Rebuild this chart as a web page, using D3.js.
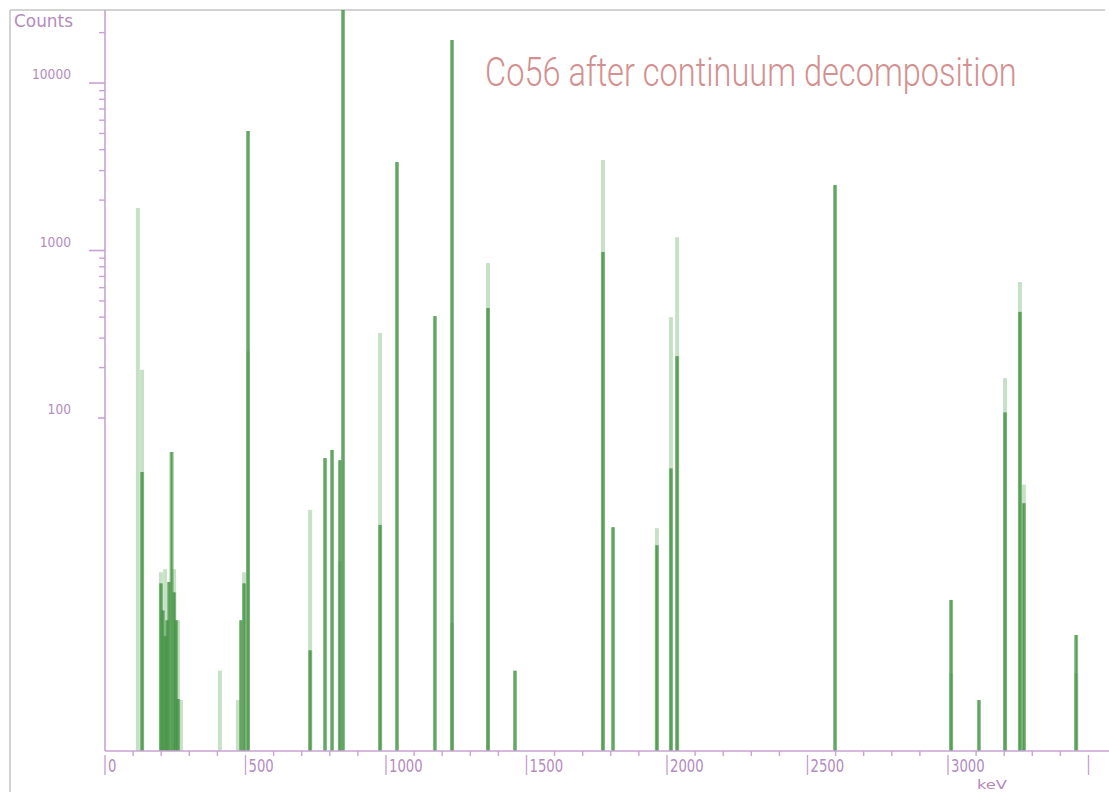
<!DOCTYPE html>
<html>
<head>
<meta charset="utf-8">
<script src="https://cdn.jsdelivr.net/npm/d3@7"></script>
<style>
  html, body { margin: 0; padding: 0; background: #ffffff; }
  svg { display: block; }
</style>
</head>
<body>
<svg id="chart" width="1109" height="792"></svg>
<script>
// ---- data ----
const title = "Co56 after continuum decomposition";
const yAxisTitle = "Counts";
const xAxisTitle = "keV";
const yTickValues = [100, 1000, 10000];
const yTickLabels = ["100", "1000", "10000"];
const xTickValues = [0, 500, 1000, 1500, 2000, 2500, 3000, 3500];
const xTickLabels = ["0", "500", "1000", "1500", "2000", "2500", "3000", ""];

// line energies (keV)
const lineEnergy = [117, 132, 199, 206, 214, 221, 228, 237, 246, 253, 260, 270,
  409, 473, 484, 495, 509, 730, 783, 808, 836, 847, 979, 1039, 1174, 1235,
  1363, 1459, 1772, 1808, 1964, 2014, 2036, 2598, 3011, 3110, 3203, 3256, 3270, 3456];
// light (spectrum envelope) counts, null = none
const lightCounts = [1795, 194, 12, null, 12.5, null, null, null, 12.5, null, 6.2, 2.07,
  3.1, 2.07, null, 12, 250, 28.3, null, null, 14, null, 322, null, null, 6,
  842, null, 3470, null, 22, 400, 1200, null, 3, null, 173, 649, 40, 3];
// dark (fitted peak) counts
const darkCounts = [null, 47.6, 10.3, 7.1, 5, 6.2, 10.5, 62.7, 9.1, 6.2, 2.1, null,
  null, null, 6.2, 10.3, 5170, 4.1, 57.7, 64.5, 56, 60000, 23, 3375, 406, 18070,
  454, 3.1, 980, 22.3, 17.4, 50, 234, 2460, 8.2, 2.07, 108, 430, 31, 5.06];

// ---- drawing ----
const svg = d3.select("#chart");
const axisColor = "#c9a3d3";
const labelColor = "#b48bbf";
const x0 = 105, axisY = 751, topY = 10, rightX = 1105;

const x = d3.scaleLinear().domain([0, 3560]).range([x0, x0 + 3560 * 0.281]);
const y = d3.scaleLog().domain([1, Math.pow(10, 4.436)]).range([753, topY]);

// frame
svg.append("line").attr("x1", 10).attr("x2", rightX).attr("y1", 10).attr("y2", 10)
  .attr("stroke", "#c4c4c4").attr("stroke-width", 1.5);
svg.append("line").attr("x1", 10).attr("x2", 10).attr("y1", 10).attr("y2", 792)
  .attr("stroke", "#c4c4c4").attr("stroke-width", 1.5);

svg.append("clipPath").attr("id", "plotclip")
  .append("rect").attr("x", x0).attr("y", topY).attr("width", rightX - x0).attr("height", axisY - topY);

const plot = svg.append("g").attr("clip-path", "url(#plotclip)");

const data = lineEnergy.map((e, i) => ({ e, light: lightCounts[i], dark: darkCounts[i] }));

// light bars
plot.selectAll("rect.light").data(data.filter(d => d.light != null)).join("rect")
  .attr("class", "light")
  .attr("x", d => x(d.e) - 2).attr("width", 4)
  .attr("y", d => y(d.light)).attr("height", d => Math.max(0, axisY - y(d.light)))
  .attr("fill", "#8fc48f").attr("fill-opacity", 0.5);

// dark bars
plot.selectAll("rect.dark").data(data.filter(d => d.dark != null)).join("rect")
  .attr("class", "dark")
  .attr("x", d => x(d.e) - 2).attr("width", 4)
  .attr("y", d => y(d.dark)).attr("height", d => Math.max(0, axisY - y(d.dark)))
  .attr("fill", "#5aa05a").attr("fill-opacity", 0.7);
plot.selectAll("rect.core").data(data.filter(d => d.dark != null)).join("rect")
  .attr("class", "core")
  .attr("x", d => x(d.e) - 0.75).attr("width", 1.5)
  .attr("y", d => y(d.dark)).attr("height", d => Math.max(0, axisY - y(d.dark)))
  .attr("fill", "#2f852f").attr("fill-opacity", 0.55);

// y axis
const yAxisG = svg.append("g");
yAxisG.append("line").attr("x1", x0).attr("x2", x0).attr("y1", topY).attr("y2", axisY)
  .attr("stroke", axisColor).attr("stroke-width", 1.6);
const minorY = [];
[100, 1000, 10000].forEach(dec => { for (let k = 2; k <= 9; k++) { const v = dec * k; if (y(v) >= topY) minorY.push(v); } });
yAxisG.selectAll("line.ym").data(minorY).join("line")
  .attr("x1", x0 - 6).attr("x2", x0).attr("y1", d => y(d)).attr("y2", d => y(d))
  .attr("stroke", axisColor).attr("stroke-width", 1.4);
yAxisG.selectAll("line.yM").data(yTickValues).join("line")
  .attr("x1", d => d === 100 ? x0 - 7 : x0 - 16).attr("x2", x0)
  .attr("y1", d => y(d)).attr("y2", d => y(d))
  .attr("stroke", axisColor).attr("stroke-width", 1.6);
yAxisG.selectAll("text.yl").data(yTickValues).join("text")
  .attr("x", 71).attr("y", d => y(d) - 4)
  .attr("text-anchor", "end")
  .attr("font-family", "DejaVu Sans Condensed, DejaVu Sans, sans-serif")
  .attr("font-size", 14)
  .attr("textLength", (d, i) => yTickLabels[i].length * 7.8)
  .attr("lengthAdjust", "spacingAndGlyphs")
  .attr("fill", labelColor)
  .text((d, i) => yTickLabels[i]);
svg.append("text").attr("x", 14).attr("y", 27)
  .attr("font-family", "DejaVu Sans Condensed, DejaVu Sans, sans-serif")
  .attr("font-size", 17).attr("textLength", 59).attr("lengthAdjust", "spacingAndGlyphs")
  .attr("fill", labelColor).text(yAxisTitle);

// x axis
const xAxisG = svg.append("g");
xAxisG.append("line").attr("x1", x0).attr("x2", 1109).attr("y1", axisY).attr("y2", axisY)
  .attr("stroke", axisColor).attr("stroke-width", 1.6);
const minorX = d3.range(100, 3600, 100).filter(v => v % 500 !== 0);
xAxisG.selectAll("line.xm").data(minorX).join("line")
  .attr("x1", d => x(d)).attr("x2", d => x(d)).attr("y1", axisY).attr("y2", axisY + 5)
  .attr("stroke", axisColor).attr("stroke-width", 1.4);
xAxisG.selectAll("line.xM").data(xTickValues).join("line")
  .attr("x1", d => x(d)).attr("x2", d => x(d)).attr("y1", axisY + 4).attr("y2", axisY + 24)
  .attr("stroke", axisColor).attr("stroke-width", 1.4);
xAxisG.selectAll("text.xl").data(xTickValues.filter((d, i) => xTickLabels[i] !== "")).join("text")
  .attr("x", d => x(d) + 3).attr("y", axisY + 21)
  .attr("font-family", "DejaVu Sans Condensed, DejaVu Sans, sans-serif")
  .attr("font-size", 18)
  .attr("textLength", (d, i) => xTickLabels[i].length * 8.4)
  .attr("lengthAdjust", "spacingAndGlyphs")
  .attr("fill", labelColor)
  .text((d, i) => xTickLabels[i]);
svg.append("text").attr("x", 977).attr("y", 788.5)
  .attr("font-family", "DejaVu Sans Condensed, DejaVu Sans, sans-serif")
  .attr("font-size", 13).attr("textLength", 30).attr("lengthAdjust", "spacingAndGlyphs")
  .attr("fill", labelColor).text(xAxisTitle);

// title (natural glyphs, horizontally scaled to the reference width)
const titleText = svg.append("text")
  .attr("x", 0).attr("y", 0)
  .attr("font-family", "Roboto, DejaVu Sans, sans-serif")
  .attr("font-weight", 300)
  .attr("font-size", 40)
  .attr("fill", "#d39090")
  .text(title);
const natural = titleText.node().getComputedTextLength();
const sx = natural > 0 ? 532 / natural : 1;
titleText.attr("transform", `translate(485,86) scale(${sx},1)`);
</script>
</body>
</html>
